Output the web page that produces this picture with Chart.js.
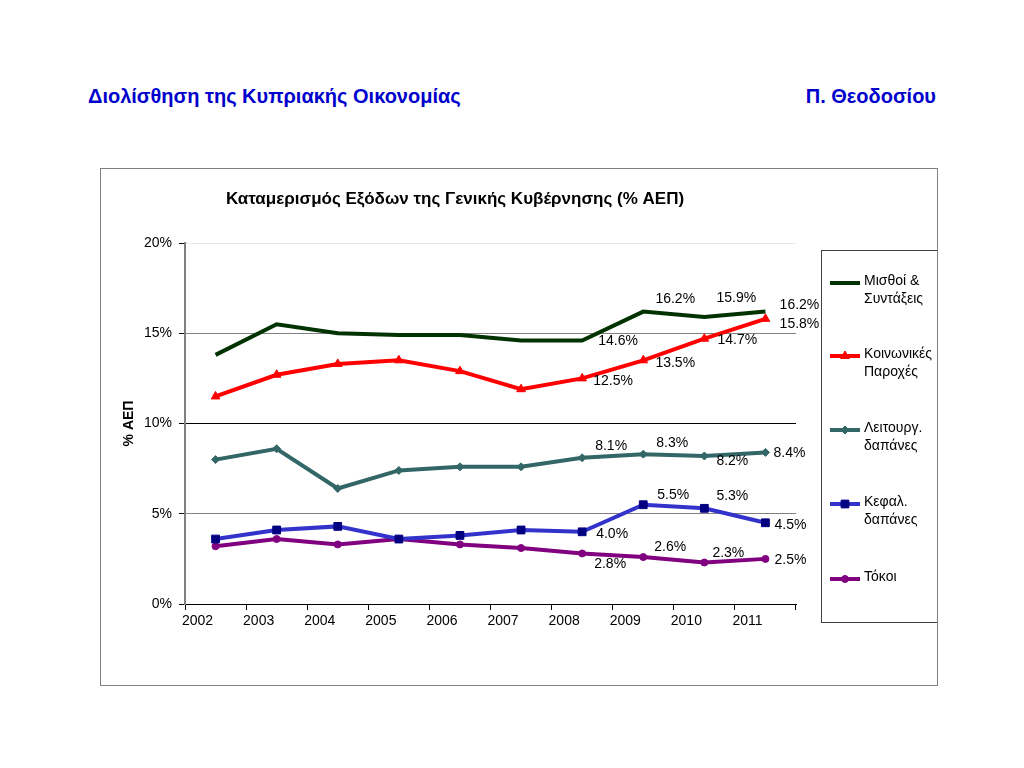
<!DOCTYPE html>
<html>
<head>
<meta charset="utf-8">
<script src="https://cdn.jsdelivr.net/npm/chart.js@4.4.1/dist/chart.umd.min.js"></script>
<style>
  body { margin: 0; background: #fff; font-family: "Liberation Sans", Arial, sans-serif; }
  .head { position: absolute; top: 85px; color: #0000cc; font-weight: bold; font-size: 20px; }
  #frame { position: absolute; left: 100px; top: 168px; width: 836px; height: 516px; border: 1px solid #808080; }
  canvas { display: block; }
</style>
</head>
<body>
<div class="head" style="left:88px">Διολίσθηση της Κυπριακής Οικονομίας</div>
<div class="head" style="right:88px">Π. Θεοδοσίου</div>
<div id="frame"><canvas id="chart" width="836" height="516"></canvas></div>
<script>
// data
const years = ["2002", "2003", "2004", "2005", "2006", "2007", "2008", "2009", "2010", "2011"];
const salaries = [13.8, 15.5, 15.0, 14.9, 14.9, 14.6, 14.6, 16.2, 15.9, 16.2];
const social = [11.5, 12.7, 13.3, 13.5, 12.9, 11.9, 12.5, 13.5, 14.7, 15.8];
const operating = [8.0, 8.6, 6.4, 7.4, 7.6, 7.6, 8.1, 8.3, 8.2, 8.4];
const capital = [3.6, 4.1, 4.3, 3.6, 3.8, 4.1, 4.0, 5.5, 5.3, 4.5];
const interest = [3.2, 3.6, 3.3, 3.6, 3.3, 3.1, 2.8, 2.6, 2.3, 2.5];
const seriesNames = [
  ["Μισθοί &", "Συντάξεις"],
  ["Κοινωνικές", "Παροχές"],
  ["Λειτουργ.", "δαπάνες"],
  ["Κεφαλ.", "δαπάνες"],
  ["Τόκοι"],
];
const yTicks = [0, 5, 10, 15, 20];

// where the value labels sit, relative to the point (only 2008-2011 are labelled)
const labelFrom = 6;
const labelOffsets = [
  [[36, 1], [32, -12], [32, -19], [34, -6]],
  [[31, 3], [32, 3], [33, 1], [34, 5]],
  [[29, -12], [29, -11], [28, 5], [24, 1]],
  [[30, 2], [30, -10], [28, -12], [25, 2]],
  [[28, 11], [27, -10], [24, -9], [25, 1]],
];

const FONT = "'Liberation Sans', Arial, sans-serif";

const mkSet = (label, data, color, pointColor, style, r) => ({
  label, data,
  borderColor: color,
  backgroundColor: pointColor,
  pointBackgroundColor: pointColor,
  pointBorderColor: pointColor,
  borderWidth: 4,
  pointStyle: style || false,
  pointRadius: style ? r : 0,
  pointHoverRadius: style ? r : 0,
  pointBorderWidth: 1,
  tension: 0,
});

const datasets = [
  mkSet(seriesNames[0].join(" "), salaries, "#003300", "#003300", null, 0),
  mkSet(seriesNames[1].join(" "), social, "#ff0000", "#ff0000", "triangle", 5),
  mkSet(seriesNames[2].join(" "), operating, "#336666", "#336666", "rectRot", 4),
  mkSet(seriesNames[3].join(" "), capital, "#3333cc", "#000080", "rect", 5.5),
  mkSet(seriesNames[4].join(" "), interest, "#800080", "#800080", "circle", 3.5),
];

// value labels + title + legend box
const extras = {
  id: "extras",
  afterDatasetsDraw(chart) {
    const ctx = chart.ctx;
    ctx.save();
    ctx.font = "14px " + FONT;
    ctx.fillStyle = "#000";
    ctx.textAlign = "center";
    ctx.textBaseline = "middle";
    chart.data.datasets.forEach((ds, di) => {
      const meta = chart.getDatasetMeta(di);
      labelOffsets[di].forEach((off, k) => {
        const i = labelFrom + k;
        const pt = meta.data[i];
        ctx.fillText(ds.data[i].toFixed(1) + "%", pt.x + off[0], pt.y + off[1]);
      });
    });

    // chart title
    ctx.font = "bold 17px " + FONT;
    ctx.fillText("Καταμερισμός Εξόδων της Γενικής Κυβέρνησης (% ΑΕΠ)", 354, 30);

    // legend
    const lx = 720, ly = 81, lw = 116, lh = 372;
    ctx.strokeStyle = "#404040";
    ctx.lineWidth = 1;
    ctx.strokeRect(lx + 0.5, ly + 0.5, lw, lh);
    const rowY = [114, 187, 261, 335, 410];
    ctx.textAlign = "left";
    ctx.font = "14px " + FONT;
    chart.data.datasets.forEach((ds, di) => {
      const y = rowY[di];
      ctx.strokeStyle = ds.borderColor;
      ctx.lineWidth = 4;
      ctx.beginPath();
      ctx.moveTo(lx + 9, y);
      ctx.lineTo(lx + 39, y);
      ctx.stroke();
      if (ds.pointStyle) {
        ctx.fillStyle = ds.pointBackgroundColor;
        ctx.strokeStyle = ds.pointBorderColor;
        ctx.lineWidth = 1;
        Chart.helpers.drawPoint(ctx, { pointStyle: ds.pointStyle, radius: ds.pointRadius, borderWidth: 1, rotation: 0 }, lx + 24, y);
      }
      ctx.fillStyle = "#000";
      seriesNames[di].forEach((t, j) => {
        ctx.fillText(t, lx + 43, y - 2 + j * 18);
      });
    });
    ctx.restore();
  },
};

new Chart(document.getElementById("chart"), {
  type: "line",
  data: { labels: years, datasets },
  plugins: [extras],
  options: {
    responsive: false,
    animation: false,
    events: [],
    layout: { padding: { left: 20, top: 74, right: 141, bottom: 40 } },
    plugins: { legend: { display: false }, tooltip: { enabled: false } },
    scales: {
      x: {
        offset: true,
        afterFit: (s) => { s.height = 41; },
        grid: { offset: true, drawOnChartArea: false, drawTicks: true, tickLength: 6, color: "#000" },
        border: { color: "#000", width: 1 },
        ticks: { color: "#000", font: { family: FONT, size: 14 }, labelOffset: -18, padding: 3, maxRotation: 0 },
      },
      y: {
        min: 0, max: 20,
        afterFit: (s) => { s.width = 64; },
        afterBuildTicks: (s) => { s.ticks = yTicks.map((v) => ({ value: v })); },
        grid: {
          color: (c) => {
            const v = c.tick && c.tick.value;
            if (v === 20) return "#e8e8e8";
            if (v === 10) return "#000";
            if (v === 0) return "rgba(0,0,0,0)";
            return "#808080";
          },
          tickColor: "#000",
          tickLength: 6,
          lineWidth: 1,
        },
        border: { color: "#808080", width: 2 },
        ticks: { color: "#000", font: { family: FONT, size: 14 }, padding: 7, callback: (v) => v + "%" },
        title: { display: true, text: "% ΑΕΠ", color: "#000", font: { family: FONT, size: 14, weight: "bold" }, padding: 0 },
      },
    },
  },
});
</script>
</body>
</html>
